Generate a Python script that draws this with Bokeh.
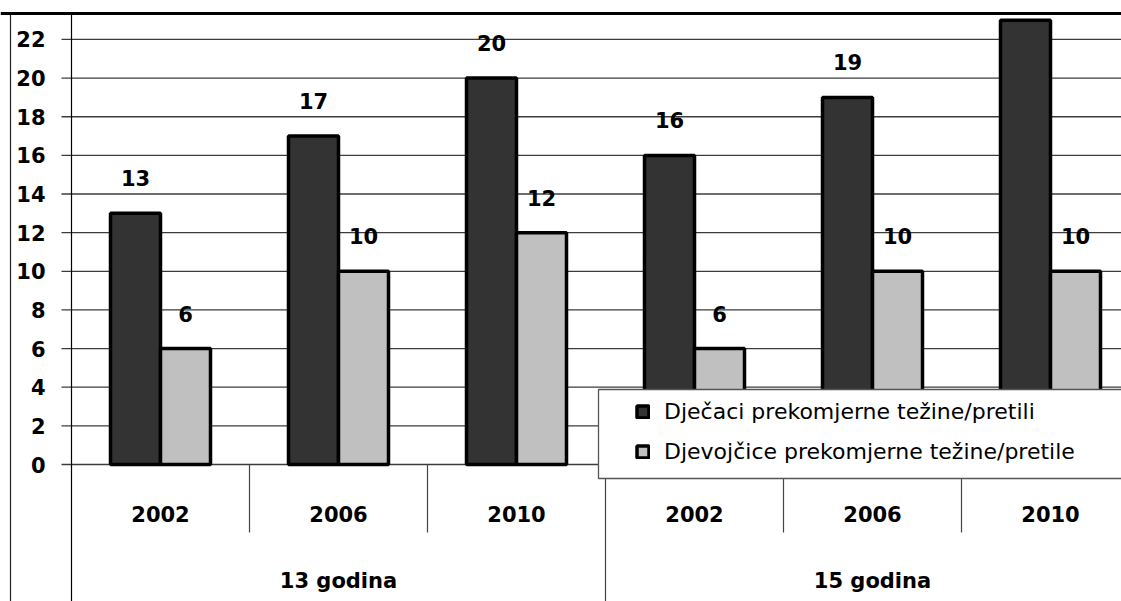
import numpy as np
from bokeh.plotting import figure
from bokeh.models import Range1d, Legend, LegendItem, Span
from bokeh.core.properties import value
from bokeh.embed import file_html
from bokeh.resources import INLINE

# ---- data ----
years = ["2002", "2006", "2010", "2002", "2006", "2010"]
groups = ["13 godina", "15 godina"]
boys = [13, 17, 20, 16, 19, 23]
girls = [6, 10, 12, 6, 10, 10]
y_ticks = [0, 2, 4, 6, 8, 10, 12, 14, 16, 18, 20, 22]
y_tick_labels = [str(t) for t in y_ticks]
series_names = ["Dječaci prekomjerne težine/pretili",
                "Djevojčice prekomjerne težine/pretile"]

# ---- layout constants (pixels) ----
W, H = 1121, 601
AX_PX = 71        # y axis position from figure left
CAT_PX = 178      # width of one category
ZERO_PX = 464     # y=0 from figure top
UNIT_PX = 19.32   # pixels per unit
LABEL_OFF = 35    # value label offset above bar top

x_start = -AX_PX / CAT_PX
x_end = (W - AX_PX) / CAT_PX
y_end = ZERO_PX / UNIT_PX
y_start = -(H - ZERO_PX) / UNIT_PX

FONT_NAME = "DejaVu Sans"
FONT = value(FONT_NAME)

p = figure(width=W, height=H, output_backend="svg", toolbar_location=None,
           x_range=Range1d(x_start, x_end), y_range=Range1d(y_start, y_end),
           x_axis_location=None, y_axis_location=None, min_border=0,
           outline_line_color=None, background_fill_color="white",
           border_fill_color="white")
p.grid.grid_line_color = None

cats = np.arange(len(years))
centers = cats + 0.5
bw = 50 / CAT_PX

# gridlines (with tick marks extending left of axis)
gx0 = -10 / CAT_PX
p.segment(x0=[gx0] * len(y_ticks), y0=y_ticks, x1=[x_end] * len(y_ticks), y1=y_ticks,
          line_color="#3c3c3c", line_width=1.3)

# y tick labels
p.text(x=[0] * len(y_ticks), y=y_ticks, text=y_tick_labels, x_offset=-26,
       text_align="right", text_baseline="middle", text_font=FONT,
       text_font_size="21px", text_font_style="bold", text_color="black")

# top thick border and left thin border
top_y = (ZERO_PX - 13) / UNIT_PX
p.add_layout(Span(location=top_y, dimension="width", line_color="black", line_width=3))
left_x = -(AX_PX - 10) / CAT_PX
p.segment(x0=[left_x], y0=[top_y], x1=[left_x], y1=[y_start], line_color="#222222", line_width=1.2)

# axis line
p.segment(x0=[0], y0=[top_y], x1=[0], y1=[y_start], line_color="black", line_width=1.2)

# bars
r_boys = p.vbar(x=centers - bw / 2, top=boys, width=bw, bottom=0,
                fill_color="#333333", line_color="black", line_width=3.5)
r_girls = p.vbar(x=centers + bw / 2, top=girls, width=bw, bottom=0,
                 fill_color="#c0c0c0", line_color="black", line_width=3.5)

# value labels (only those that fall inside the drawing area)
lim = y_end - (LABEL_OFF + 12) / UNIT_PX
for xs, vals in ((centers - bw / 2, boys), (centers + bw / 2, girls)):
    keep = [i for i, v in enumerate(vals) if v <= lim]
    p.text(x=[xs[i] for i in keep], y=[vals[i] for i in keep],
           text=[str(vals[i]) for i in keep], y_offset=-LABEL_OFF,
           text_align="center", text_baseline="middle", text_font=FONT,
           text_font_size="21px", text_font_style="bold", text_color="black")

# category separators below the axis
short_y = -68 / UNIT_PX
inner = [i for i in range(1, len(years)) if i % 3 != 0]
p.segment(x0=inner, y0=[0] * len(inner), x1=inner, y1=[short_y] * len(inner),
          line_color="#444444", line_width=1.2)
outer = [i for i in range(1, len(years)) if i % 3 == 0]
p.segment(x0=outer, y0=[0] * len(outer), x1=outer, y1=[y_start] * len(outer),
          line_color="#444444", line_width=1.2)

# year labels
p.text(x=centers, y=[0] * len(years), text=years, y_offset=49,
       text_align="center", text_baseline="middle", text_font=FONT,
       text_font_size="21px", text_font_style="bold", text_color="black")
# group labels
gx = [gi * 3 + 1.5 for gi in range(len(groups))]
p.text(x=gx, y=[0] * len(groups), text=groups, y_offset=116,
       text_align="center", text_baseline="middle", text_font=FONT,
       text_font_size="21px", text_font_style="bold", text_color="black")

# legend box
bx0 = (598 - AX_PX) / CAT_PX
btop = (ZERO_PX - 389) / UNIT_PX
bbot = (ZERO_PX - 478) / UNIT_PX
p.quad(left=[bx0], right=[x_end + 1], top=[btop], bottom=[bbot],
       fill_color="white", line_color="#555555", line_width=1.3)

legend = Legend(items=[LegendItem(label=series_names[0], renderers=[r_boys]),
                       LegendItem(label=series_names[1], renderers=[r_girls])],
                location=(635, 137), background_fill_alpha=0, border_line_color=None,
                padding=0, spacing=15, glyph_width=15, glyph_height=15,
                label_standoff=14, label_height=24, label_text_font=FONT_NAME,
                label_text_font_size="22px", label_text_color="black")
p.add_layout(legend)

open("out.html", "w").write(file_html(p, INLINE))
